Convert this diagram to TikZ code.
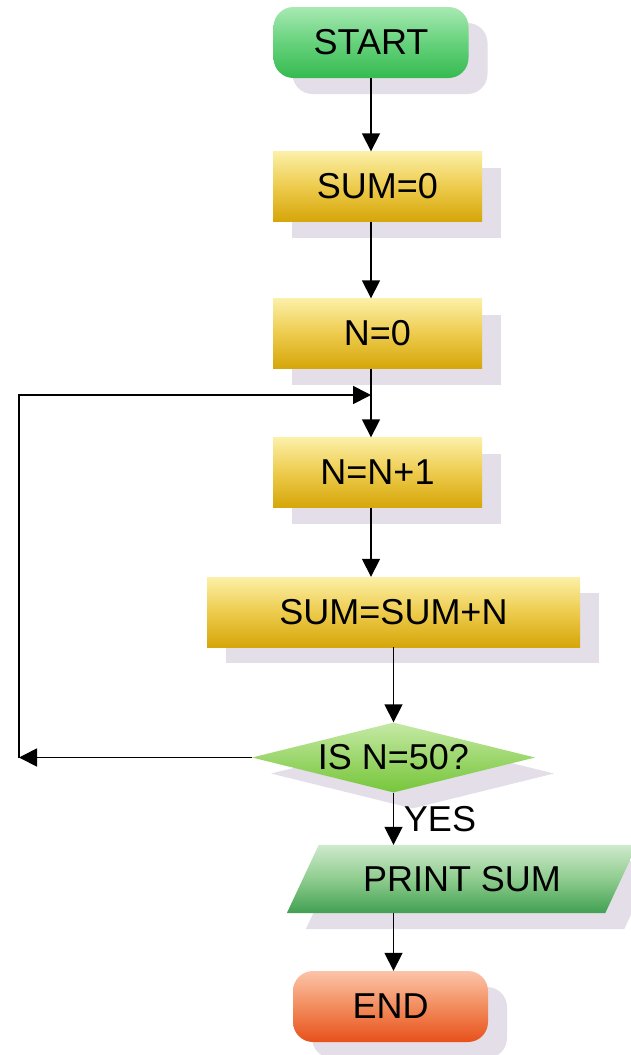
\documentclass[tikz,border=0pt]{standalone}
\usepackage{fontspec}
\setmainfont{Liberation Sans}
\usetikzlibrary{shapes.geometric,shadows,arrows.meta,backgrounds}

\definecolor{shadowc}{HTML}{E4DEE8}
\definecolor{gtop}{HTML}{A8E9B2}
\definecolor{gmid}{HTML}{66D27C}
\definecolor{gbot}{HTML}{36BA50}
\definecolor{ytop}{HTML}{FCF0A8}
\definecolor{ymid}{HTML}{EDCB4C}
\definecolor{ybot}{HTML}{D6A60A}
\definecolor{dtop}{HTML}{C6E9A6}
\definecolor{dmid}{HTML}{9DD76E}
\definecolor{dbot}{HTML}{76C63A}
\definecolor{ptop}{HTML}{CFEACD}
\definecolor{pmid}{HTML}{8ECC8E}
\definecolor{pbot}{HTML}{41A052}
\definecolor{rtop}{HTML}{FCC4A9}
\definecolor{rmid}{HTML}{F28C5D}
\definecolor{rbot}{HTML}{E8501A}

\tikzset{
  arr/.style={line width=1.7pt, -{Triangle[length=18pt,width=18pt]}},
  lbl/.style={font=\fontsize{36}{40}\selectfont, text=black, inner sep=0pt},
  shad/.style={drop shadow={shadow xshift=19pt, shadow yshift=-16pt, fill=shadowc, opacity=1}},
  terminal/.style={lbl, shad, rectangle, rounded corners=20pt,
    minimum width=195pt, minimum height=71pt},
  startbox/.style={terminal, top color=gtop, bottom color=gbot, middle color=gmid},
  endbox/.style={terminal, top color=rtop, bottom color=rbot, middle color=rmid},
  procbox/.style={lbl, shad, rectangle, minimum height=70pt,
    top color=ytop, bottom color=ybot, middle color=ymid},
  decbox/.style={lbl, shad, diamond, aspect=4, minimum width=283pt, minimum height=70pt,
    top color=dtop, bottom color=dbot, middle color=dmid},
  iobox/.style={lbl, rectangle, minimum width=318pt, minimum height=68pt},
  iofill/.style={top color=ptop, bottom color=pbot, middle color=pmid},
}

\begin{document}
\begin{tikzpicture}[x=1pt, y=-1pt]
  \clip (0,0) rectangle (631,1055);

  % flow steps
  \node[startbox] (start) at (371,42.5) {START};
  \node[procbox, minimum width=209pt] (sum0) at (377.5,186.5) {SUM=0};
  \node[procbox, minimum width=209pt] (n0) at (377.5,333.5) {N=0};
  \node[procbox, minimum width=209pt] (nn1) at (377.5,472.5) {N=N+1};
  \node[procbox, minimum width=373pt] (sumn) at (393.5,612) {SUM=SUM+N};
  \node[decbox] (dec) at (393.5,757.5) {IS N=50?};
  \node[iobox] (print) at (462,879) {PRINT SUM};
  \node[endbox] (end) at (390.5,1006.5) {END};

  % input/output parallelogram behind its label
  \begin{scope}[on background layer]
    \fill[white] (0,0) rectangle (631,1055);
    \fill[shadowc] ([xshift=3pt,yshift=-16pt]print.south west)
      -- ([xshift=35pt,yshift=-16pt]print.north west)
      -- ([xshift=35pt,yshift=-16pt]print.north east)
      -- ([xshift=3pt,yshift=-16pt]print.south east) -- cycle;
    \path[iofill] ([xshift=-16pt]print.south west)
      -- ([xshift=16pt]print.north west)
      -- ([xshift=16pt]print.north east)
      -- ([xshift=-16pt]print.south east) -- cycle;
  \end{scope}

  % loop-back points
  \coordinate (lc) at (19,757.5);
  \coordinate (jn) at (371,395);

  % connectors
  \draw[arr] (start.south) -- (start.south |- sum0.north);
  \draw[arr] (start.south |- sum0.south) -- (start.south |- n0.north);
  \draw[arr] (start.south |- n0.south) -- (start.south |- nn1.north);
  \draw[arr] (start.south |- nn1.south) -- (start.south |- sumn.north);
  \draw[arr] (dec.north |- sumn.south) -- (dec.north);
  \draw[arr] (dec.south) -- (dec.south |- print.north);
  \draw[arr] (dec.south |- print.south) -- (dec.south |- end.north);
  \draw[arr] (dec.west) -- (lc);
  \draw[arr] (lc) |- (jn);

  \node[lbl, anchor=center] (yes) at (440,819) {YES};
\end{tikzpicture}
\end{document}
